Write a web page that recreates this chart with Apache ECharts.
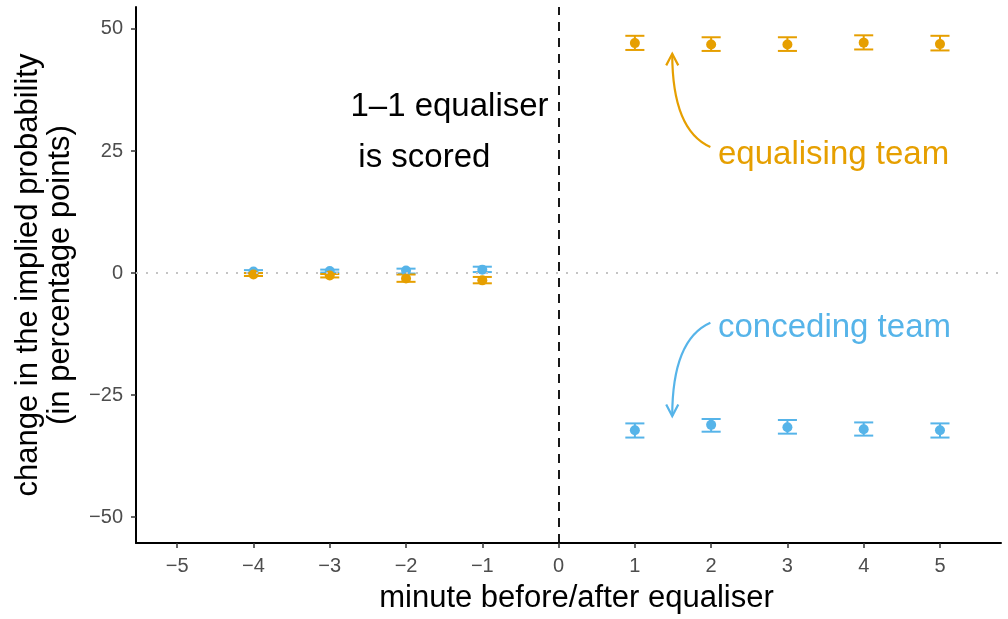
<!DOCTYPE html>
<html>
<head>
<meta charset="utf-8">
<script src="https://cdn.jsdelivr.net/npm/echarts@6/dist/echarts.min.js"></script>
<style>
  html, body { margin: 0; padding: 0; background: #fff; }
  #chart { width: 1008px; height: 619px; }
</style>
</head>
<body>
<div id="chart"></div>
<script>
// minutes relative to the 1-1 equaliser
const minutes = [-4, -3, -2, -1, 1, 2, 3, 4, 5];

// change in implied probability (percentage points), with interval bounds
const equalisingMean = [-0.3, -0.5, -1.1, -1.5, 47.1, 46.8, 46.8, 47.2, 46.9];
const equalisingLow = [-0.6, -0.9, -1.8, -2.1, 45.7, 45.5, 45.5, 45.8, 45.6];
const equalisingHigh = [0.0, -0.2, -0.3, -0.8, 48.6, 48.3, 48.3, 48.7, 48.6];

const concedingMean = [0.3, 0.4, 0.5, 0.7, -32.2, -31.1, -31.6, -32.0, -32.2];
const concedingLow = [0.0, 0.1, -0.1, 0.2, -33.7, -32.5, -32.9, -33.3, -33.7];
const concedingHigh = [0.6, 0.7, 0.9, 1.3, -30.8, -29.9, -30.1, -30.6, -30.8];

const xTicks = [-5, -4, -3, -2, -1, 0, 1, 2, 3, 4, 5];
const yTicks = [-50, -25, 0, 25, 50];

// annotation texts and their anchor points (data units)
const noteTexts = ["1\u20131 equaliser", "is scored", "equalising team", "conceding team"];
const noteX = [-1.43, -1.76, 2.09, 2.09];
const noteY = [34.0, 23.6, 24.2, -11.3];

// curved arrows: start (x, y) -> tip (x, y)
const arrowEqualising = [[1.99, 25.8, 1.49, 44.9]];
const arrowConceding = [[1.99, -10.2, 1.49, -29.3]];

const ORANGE = "#E69F00";
const BLUE = "#56B4E9";
const FONT = "Liberation Sans";

const chart = echarts.init(document.getElementById("chart"));

const pointData = (mean) => minutes.map((m, i) => [m, mean[i]]);
const barData = (low, high) => minutes.map((m, i) => [m, low[i], high[i]]);

function errorBar(color) {
  return function (params, api) {
    const x = api.value(0);
    const lo = api.coord([x, api.value(1)]);
    const hi = api.coord([x, api.value(2)]);
    const hw = api.size([0.25, 0])[0] / 2;
    const style = { stroke: color, lineWidth: 2 };
    return {
      type: "group",
      children: [
        { type: "line", shape: { x1: lo[0], y1: lo[1], x2: hi[0], y2: hi[1] }, style },
        { type: "line", shape: { x1: lo[0] - hw, y1: lo[1], x2: lo[0] + hw, y2: lo[1] }, style },
        { type: "line", shape: { x1: hi[0] - hw, y1: hi[1], x2: hi[0] + hw, y2: hi[1] }, style }
      ]
    };
  };
}

function curvedArrow(color) {
  return function (params, api) {
    const s = api.coord([api.value(0), api.value(1)]);
    const e = api.coord([api.value(2), api.value(3)]);
    const cp = [e[0], s[1] + (e[1] - s[1]) * 0.18];
    const dx = e[0] - cp[0], dy = e[1] - cp[1];
    const len = Math.sqrt(dx * dx + dy * dy);
    const ux = dx / len, uy = dy / len;
    const headLen = 13, ang = Math.PI / 6.5;
    const rot = (a) => [
      e[0] - headLen * (ux * Math.cos(a) - uy * Math.sin(a)),
      e[1] - headLen * (ux * Math.sin(a) + uy * Math.cos(a))
    ];
    const style = { stroke: color, lineWidth: 2.2, fill: null };
    return {
      type: "group",
      children: [
        { type: "bezierCurve", shape: { x1: s[0], y1: s[1], x2: e[0], y2: e[1], cpx1: cp[0], cpy1: cp[1] }, style },
        { type: "polyline", shape: { points: [rot(ang), e, rot(-ang)] }, style }
      ]
    };
  };
}

const noteColors = ["#000", "#000", ORANGE, BLUE];
const noteAlign = ["center", "center", "left", "left"];

chart.setOption({
  backgroundColor: "#fff",
  animation: false,
  grid: { left: 136, right: 7, top: 7, bottom: 76 },
  xAxis: {
    type: "value",
    min: -5.54,
    max: 5.8,
    name: "minute before/after equaliser",
    nameLocation: "middle",
    nameGap: 40,
    nameTextStyle: { color: "#000", fontSize: 31, fontFamily: FONT, padding: [0, 0, 0, 16] },
    splitLine: { show: false },
    axisLine: { show: true, onZero: false, lineStyle: { color: "#000", width: 2 } },
    axisTick: { show: true, length: 5, customValues: xTicks, lineStyle: { color: "#333", width: 1.5 } },
    axisLabel: {
      customValues: xTicks,
      margin: 13,
      color: "#4D4D4D",
      fontSize: 20,
      fontFamily: FONT,
      formatter: (v) => String(v).replace("-", "\u2212")
    }
  },
  yAxis: {
    type: "value",
    min: -55.3,
    max: 54.5,
    name: "change in the implied probability\n(in percentage points)",
    nameLocation: "middle",
    nameGap: 60,
    nameTextStyle: { color: "#000", fontSize: 31, fontFamily: FONT, lineHeight: 32 },
    splitLine: { show: false },
    axisLine: { show: true, onZero: false, lineStyle: { color: "#000", width: 2 } },
    axisTick: { show: true, length: 5, customValues: yTicks, lineStyle: { color: "#333", width: 1.5 } },
    axisLabel: {
      customValues: yTicks,
      margin: 13,
      color: "#4D4D4D",
      fontSize: 20,
      fontFamily: FONT,
      formatter: (v) => String(v).replace("-", "\u2212")
    }
  },
  series: [
    {
      name: "reference lines",
      type: "scatter",
      data: [],
      markLine: {
        silent: true,
        symbol: "none",
        label: { show: false },
        data: [
          { yAxis: 0, lineStyle: { type: [2, 8], color: "#c4c4c4", width: 2 } },
          { xAxis: 0, lineStyle: { type: [9, 7], color: "#000", width: 1.8 } }
        ]
      }
    },
    {
      name: "conceding bars",
      type: "custom",
      renderItem: errorBar(BLUE),
      encode: { x: 0, y: [1, 2] },
      data: barData(concedingLow, concedingHigh),
      z: 3
    },
    {
      name: "conceding team",
      type: "scatter",
      symbolSize: 10,
      itemStyle: { color: BLUE, opacity: 1 },
      data: pointData(concedingMean),
      z: 4
    },
    {
      name: "equalising bars",
      type: "custom",
      renderItem: errorBar(ORANGE),
      encode: { x: 0, y: [1, 2] },
      data: barData(equalisingLow, equalisingHigh),
      z: 3
    },
    {
      name: "equalising team",
      type: "scatter",
      symbolSize: 10,
      itemStyle: { color: ORANGE, opacity: 1 },
      data: pointData(equalisingMean),
      z: 4
    },
    {
      name: "arrow equalising",
      type: "custom",
      renderItem: curvedArrow(ORANGE),
      encode: { x: [0, 2], y: [1, 3] },
      data: arrowEqualising,
      silent: true
    },
    {
      name: "arrow conceding",
      type: "custom",
      renderItem: curvedArrow(BLUE),
      encode: { x: [0, 2], y: [1, 3] },
      data: arrowConceding,
      silent: true
    },
    {
      name: "notes",
      type: "custom",
      silent: true,
      encode: { x: 0, y: 1 },
      data: noteX.map((x, i) => [x, noteY[i]]),
      renderItem: function (params, api) {
        const p = api.coord([api.value(0), api.value(1)]);
        const i = params.dataIndex;
        return {
          type: "text",
          x: p[0],
          y: p[1],
          style: {
            text: noteTexts[i],
            fill: noteColors[i],
            fontSize: 33,
            fontFamily: FONT,
            align: noteAlign[i],
            verticalAlign: "middle"
          }
        };
      }
    }
  ]
});
</script>
</body>
</html>
